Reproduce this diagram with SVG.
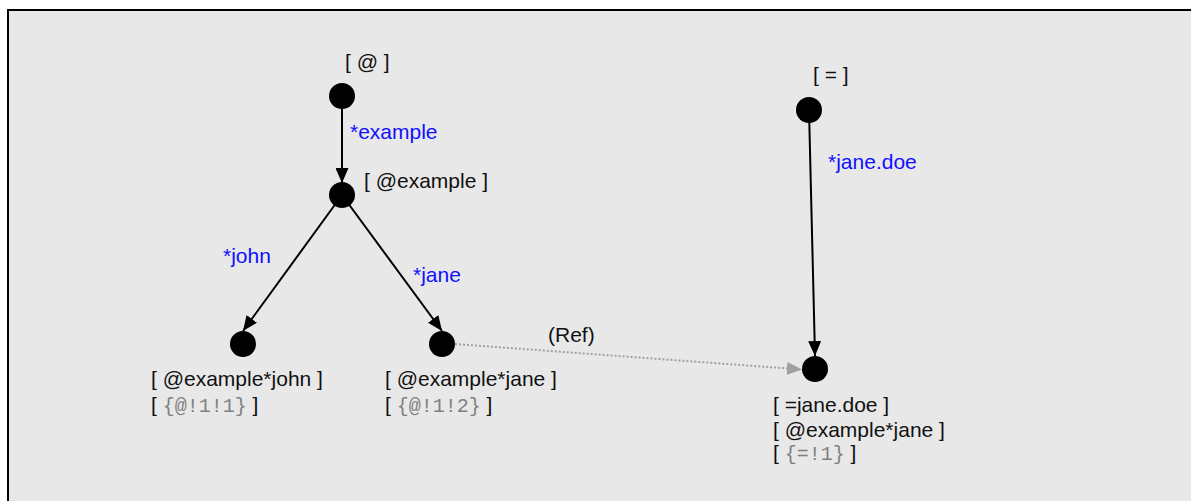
<svg xmlns="http://www.w3.org/2000/svg" width="1191" height="501" viewBox="0 0 1191 501">
<style>
.t{font-family:"Liberation Sans",Arial,sans-serif;font-size:21px;fill:#111}
.b{font-family:"Liberation Sans",Arial,sans-serif;font-size:21px;fill:#1010ff}
.m{font-family:"Liberation Mono","Courier New",monospace;font-size:20px;fill:#808080}
.n{fill:#000}
.e{stroke:#000;stroke-width:2;fill:none}
.r{stroke:#a0a0a0;stroke-width:2;stroke-dasharray:2 2;fill:none}
</style>
<defs>
<marker id="ah" markerWidth="15" markerHeight="13" refX="15" refY="6.5" orient="auto" markerUnits="userSpaceOnUse"><path d="M0,0 L15,6.5 L0,13 Z" fill="#000"/></marker>
<marker id="ahg" markerWidth="15" markerHeight="13" refX="15" refY="6.5" orient="auto" markerUnits="userSpaceOnUse"><path d="M0,0 L15,6.5 L0,13 Z" fill="#a0a0a0"/></marker>
</defs>
<rect x="8" y="10" width="1200" height="500" fill="#e8e8e8" stroke="#000" stroke-width="2"/>
<g id="connectors">
<line class="e" x1="342" y1="109" x2="342" y2="183" marker-end="url(#ah)"/>
<line class="e" x1="342" y1="195" x2="243" y2="331" marker-end="url(#ah)"/>
<line class="e" x1="342" y1="195" x2="442" y2="331" marker-end="url(#ah)"/>
<line class="e" x1="809" y1="110" x2="815" y2="356" marker-end="url(#ah)"/>
<line class="r" x1="455" y1="344" x2="802" y2="369.5" marker-end="url(#ahg)"/>
<text class="b" x="350" y="139">*example</text>
<text class="b" x="223" y="263">*john</text>
<text class="b" x="413" y="282">*jane</text>
<text class="b" x="828" y="169">*jane.doe</text>
<text class="t" x="548" y="342">(Ref)</text>
</g>
<g id="node-at">
<circle class="n" cx="342" cy="96" r="13"/>
<text class="t" x="345" y="69">[ @ ]</text>
</g>
<g id="node-example">
<circle class="n" cx="342" cy="195" r="13"/>
<text class="t" x="364" y="188">[ @example ]</text>
</g>
<g id="node-john">
<circle class="n" cx="243" cy="344" r="13"/>
<text class="t" x="151" y="386">[ @example*john ]</text>
<text class="t" x="151" y="412">[ <tspan class="m">{@!1!1}</tspan> ]</text>
</g>
<g id="node-jane">
<circle class="n" cx="442" cy="344" r="13"/>
<text class="t" x="385" y="386">[ @example*jane ]</text>
<text class="t" x="385" y="412">[ <tspan class="m">{@!1!2}</tspan> ]</text>
</g>
<g id="node-eq">
<circle class="n" cx="809" cy="110" r="13"/>
<text class="t" x="813" y="82">[ = ]</text>
</g>
<g id="node-janedoe">
<circle class="n" cx="815" cy="369" r="13"/>
<text class="t" x="773" y="412">[ =jane.doe ]</text>
<text class="t" x="773" y="437">[ @example*jane ]</text>
<text class="t" x="773" y="460">[ <tspan class="m">{=!1}</tspan> ]</text>
</g>
</svg>
